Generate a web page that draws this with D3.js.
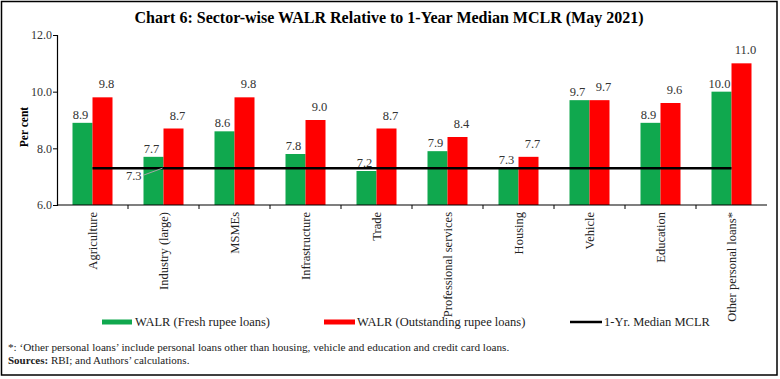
<!DOCTYPE html>
<html>
<head>
<meta charset="utf-8">
<script src="https://cdn.jsdelivr.net/npm/d3@7"></script>
<style>
  body { margin: 0; background: #fff; }
  text { font-family: "Liberation Serif", "DejaVu Serif", serif; }
</style>
</head>
<body>
<div id="chart"></div>
<script>
// sector-wise WALR vs 1-yr median MCLR, May 2021
var sectors = ["Agriculture", "Industry (large)", "MSMEs", "Infrastructure", "Trade",
  "Professional services", "Housing", "Vehicle", "Education", "Other personal loans*"];
var freshWalr = [8.9, 7.7, 8.6, 7.8, 7.2, 7.9, 7.3, 9.7, 8.9, 10.0];
var outstandingWalr = [9.8, 8.7, 9.8, 9.0, 8.7, 8.4, 7.7, 9.7, 9.6, 11.0];
var medianMclr = 7.3;
var yTicks = [6, 8, 10, 12];

var svgWidth = 780;
var svgHeight = 379;

var margin = { top: 35, right: 13, bottom: 174, left: 57 };
var width = svgWidth - margin.left - margin.right;
var height = svgHeight - margin.top - margin.bottom;

var green = "#10a84e";
var red = "#ff0000";

var svg = d3.select("#chart")
  .append("svg")
  .attr("width", svgWidth)
  .attr("height", svgHeight);

// outer frame
svg.append("rect")
  .attr("x", 1.5).attr("y", 1.5)
  .attr("width", 775.5).attr("height", 373.5)
  .attr("fill", "none")
  .attr("stroke", "#000")
  .attr("stroke-width", 1.5);

svg.append("text")
  .attr("x", 389).attr("y", 23)
  .attr("text-anchor", "middle")
  .attr("font-weight", "bold")
  .attr("font-size", 16)
  .text("Chart 6: Sector-wise WALR Relative to 1-Year Median MCLR (May 2021)");

var chartGroup = svg.append("g")
  .attr("transform", `translate(${margin.left}, ${margin.top})`);

var x0 = d3.scaleBand()
  .domain(sectors)
  .range([0, width]);

var x1 = d3.scaleBand()
  .domain(["fresh", "outstanding"])
  .range([x0.bandwidth() / 2 - 20, x0.bandwidth() / 2 + 20]);

var yScale = d3.scaleLinear()
  .domain([6, 12])
  .range([height, 0]);

// bars
var groups = chartGroup.selectAll(".sector")
  .data(sectors)
  .enter()
  .append("g")
  .attr("transform", d => `translate(${x0(d)}, 0)`);

groups.append("rect")
  .attr("x", x1("fresh"))
  .attr("y", (d, i) => yScale(freshWalr[i]))
  .attr("width", x1.bandwidth())
  .attr("height", (d, i) => height - yScale(freshWalr[i]))
  .attr("fill", green);

groups.append("rect")
  .attr("x", x1("outstanding"))
  .attr("y", (d, i) => yScale(outstandingWalr[i]))
  .attr("width", x1.bandwidth())
  .attr("height", (d, i) => height - yScale(outstandingWalr[i]))
  .attr("fill", red);

// value labels
groups.append("text")
  .attr("x", x1("fresh") + x1.bandwidth() / 2 - 2)
  .attr("y", (d, i) => yScale(freshWalr[i]) - 4)
  .attr("text-anchor", "middle")
  .attr("font-size", 12.5)
  .attr("fill", "#333")
  .text((d, i) => freshWalr[i].toFixed(1));

groups.append("text")
  .attr("x", x1("outstanding") + x1.bandwidth() / 2 + 4)
  .attr("y", (d, i) => yScale(outstandingWalr[i]) - 9)
  .attr("text-anchor", "middle")
  .attr("font-size", 12.5)
  .attr("fill", "#333")
  .text((d, i) => outstandingWalr[i].toFixed(1));

// MCLR line from first to last category centre
var firstX = x0(sectors[0]) + x0.bandwidth() / 2;
var lastX = x0(sectors[sectors.length - 1]) + x0.bandwidth() / 2;
chartGroup.append("line")
  .attr("x1", firstX).attr("x2", lastX)
  .attr("y1", yScale(medianMclr)).attr("y2", yScale(medianMclr))
  .attr("stroke", "#000")
  .attr("stroke-width", 2.5);

// MCLR label with leader line
var secondX = x0(sectors[1]) + x0.bandwidth() / 2;
chartGroup.append("line")
  .attr("x1", secondX - 20).attr("y1", yScale(medianMclr) + 7)
  .attr("x2", secondX - 1).attr("y2", yScale(medianMclr))
  .attr("stroke", "#a6a6a6")
  .attr("stroke-width", 1);
chartGroup.append("text")
  .attr("x", secondX - 22).attr("y", yScale(medianMclr) + 12)
  .attr("text-anchor", "end")
  .attr("font-size", 12.5)
  .attr("fill", "#333")
  .text(medianMclr.toFixed(1));

// axes
var leftAxis = d3.axisLeft(yScale)
  .tickValues(yTicks)
  .tickFormat(d3.format(".1f"))
  .tickSize(4);

var yAxis = chartGroup.append("g").call(leftAxis);
yAxis.select(".domain").attr("stroke", "#000").attr("stroke-width", 1.2);
yAxis.selectAll(".tick line").attr("stroke", "#000");
yAxis.selectAll(".tick text")
  .attr("font-family", "Liberation Serif, serif")
  .attr("font-size", 12)
  .attr("fill", "#333")
  .attr("x", -5);

var xAxis = chartGroup.append("g")
  .attr("transform", `translate(0, ${height})`);
xAxis.append("line")
  .attr("x1", 0).attr("x2", width)
  .attr("stroke", "#000").attr("stroke-width", 1.2);
xAxis.selectAll(".sep")
  .data(sectors.slice(1))
  .enter()
  .append("line")
  .attr("x1", d => x0(d)).attr("x2", d => x0(d))
  .attr("y1", 0).attr("y2", 4)
  .attr("stroke", "#000");
xAxis.selectAll(".cat")
  .data(sectors)
  .enter()
  .append("text")
  .attr("transform", d => `translate(${x0(d) + x0.bandwidth() / 2 + 4}, 7) rotate(-90)`)
  .attr("text-anchor", "end")
  .attr("font-size", 12.5)
  .attr("fill", "#222")
  .text(d => d);

// y label
svg.append("text")
  .attr("transform", `translate(28, 127) rotate(-90)`)
  .attr("text-anchor", "middle")
  .attr("font-weight", "bold")
  .attr("font-size", 11.5)
  .text("Per cent");

// legend
var legendY = 322;
svg.append("rect").attr("x", 102).attr("y", legendY - 2.5).attr("width", 30).attr("height", 5).attr("fill", green);
svg.append("text").attr("x", 135).attr("y", legendY + 4).attr("font-size", 12.5).attr("fill", "#222")
  .text("WALR (Fresh rupee loans)");
svg.append("rect").attr("x", 324).attr("y", legendY - 2.5).attr("width", 31).attr("height", 5).attr("fill", red);
svg.append("text").attr("x", 357).attr("y", legendY + 4).attr("font-size", 12.5).attr("fill", "#222")
  .text("WALR (Outstanding rupee loans)");
svg.append("line").attr("x1", 570).attr("x2", 602).attr("y1", legendY).attr("y2", legendY)
  .attr("stroke", "#000").attr("stroke-width", 2.5);
svg.append("text").attr("x", 604).attr("y", legendY + 4).attr("font-size", 12.5).attr("fill", "#222")
  .text("1-Yr. Median MCLR");

// notes
svg.append("text").attr("x", 8).attr("y", 351).attr("font-size", 11.2).attr("fill", "#222")
  .text("*: \u2018Other personal loans\u2019 include personal loans other than housing, vehicle and education and credit card loans.");
var src = svg.append("text").attr("x", 8).attr("y", 364).attr("font-size", 11).attr("fill", "#222");
src.append("tspan").attr("font-weight", "bold").text("Sources: ");
src.append("tspan").text("RBI; and Authors\u2019 calculations.");
</script>
</body>
</html>
